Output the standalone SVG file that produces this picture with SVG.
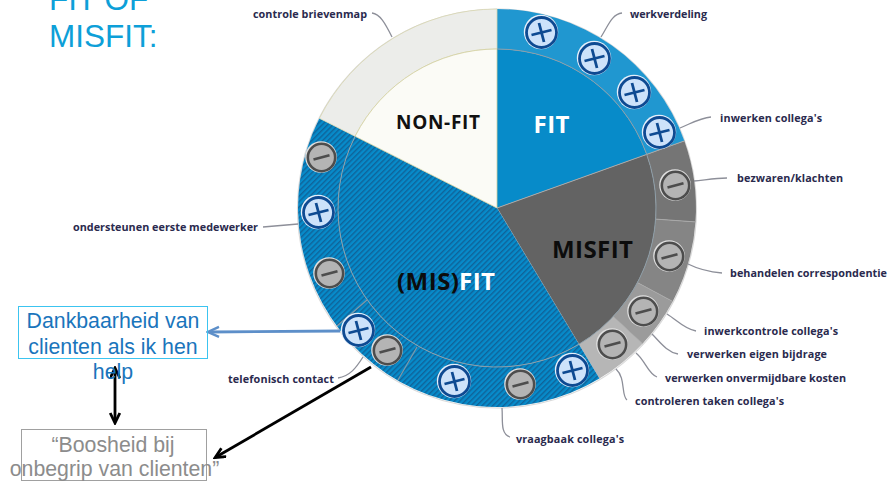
<svg xmlns="http://www.w3.org/2000/svg" width="892" height="486" viewBox="0 0 892 486">
<style>
.lb{font-family:"Open Sans","DejaVu Sans",sans-serif;font-weight:700;font-size:10.8px;fill:#2a2a4e}
.big{font-family:"Open Sans","Liberation Sans",sans-serif;font-weight:700;font-size:24px}
.ar{font-family:"Liberation Sans",Arial,sans-serif;font-size:21.3px;text-anchor:middle}
.ld{fill:none;stroke:#8d8f99;stroke-width:1.3}
.sep{fill:none;stroke:#a9a9a9;stroke-width:1}
.hd{fill:url(#hatch)}
</style>
<defs>
<pattern id="hatch" width="3.8" height="3.8" patternUnits="userSpaceOnUse" patternTransform="rotate(-45)">
<rect width="3.8" height="3.8" fill="#078bca"/><rect width="3.8" height="1.4" fill="#0f6399"/>
</pattern>
<g id="plus"><circle r="17.2" fill="#e4effb"/><circle cx="0.5" cy="0.5" r="15" fill="#cde2fa" stroke="#0e4a92" stroke-width="2.8"/><path d="M-9.5 3 L10.5 -2 M-2 -9 L3 10" fill="none" stroke="#0e4a92" stroke-width="2.8"/></g>
<g id="minus"><circle r="15.8" fill="#e0e0e0"/><circle cx="0.5" cy="0.5" r="13.7" fill="#b4b4b4" stroke="#4d4d4d" stroke-width="2.6"/><path d="M-7.5 2.6 L8.500 -1.800" fill="none" stroke="#4d4d4d" stroke-width="2.6"/></g>
<marker id="ab" markerWidth="13" markerHeight="13" refX="10" refY="5.500" orient="auto-start-reverse" markerUnits="userSpaceOnUse"><path d="M1 0.700 L11 5.500 L1 10.300" fill="none" stroke="#000" stroke-width="2.800"/></marker>
<marker id="ab2" markerWidth="14" markerHeight="14" refX="11" refY="6" orient="auto" markerUnits="userSpaceOnUse"><path d="M1 1 L12 6 L1 11" fill="none" stroke="#5d8fc9" stroke-width="2.400"/></marker>
</defs>

<text x="49" y="10" fill="#0d9fd8" font-family="Liberation Sans, Arial, sans-serif" font-size="31.5">FIT OF</text>
<text x="49" y="47" fill="#0d9fd8" font-family="Liberation Sans, Arial, sans-serif" font-size="31.5">MISFIT:</text>

<g id="ring-shadow"><circle cx="497" cy="208.500" r="199.500" fill="none" stroke="#dadada" stroke-width="1.200"/></g>

<g id="node-fit">
<path d="M497 9A199 199 0 0 1 684.400 140.900L646.700 154.400A159 159 0 0 0 497 49Z" fill="#2097d0"/>
<path d="M497 208L497 49A159 159 0 0 1 646.700 154.400Z" fill="#078bc9"/>
<text class="big" x="551.500" y="133" text-anchor="middle" fill="#fff" textLength="36">FIT</text>
</g>
<g id="node-misfit">
<path d="M684.400 140.900A199 199 0 0 1 695.500 221.900L655.600 219.100A159 159 0 0 0 646.700 154.400Z" fill="#757575"/>
<path d="M695.500 221.900A199 199 0 0 1 672.700 301.400L637.400 282.600A159 159 0 0 0 655.600 219.100Z" fill="#858585"/>
<path d="M672.700 301.400A199 199 0 0 1 642.500 343.700L613.300 316.400A159 159 0 0 0 637.400 282.600Z" fill="#9b9b9b"/>
<path d="M642.500 343.700A199 199 0 0 1 599.500 378.600L578.900 344.300A159 159 0 0 0 613.300 316.400Z" fill="#b6b6b6"/>
<path d="M497 208L646.700 154.400A159 159 0 0 1 578.900 344.300Z" fill="#636363"/>
<text class="big" x="592.500" y="258" text-anchor="middle" fill="#0c0c0c" textLength="81">MISFIT</text>
<path class="sep" d="M497 208L646.700 154.400L684.400 140.900M497 208L578.900 344.300M695.500 221.900L655.600 219.100M672.700 301.400L637.400 282.600M642.500 343.700L613.300 316.400"/>
</g>
<g id="node-misfit-mixed">
<path class="hd" d="M599.500 378.600A199 199 0 0 1 319.400 118.300L355.100 136.300A159 159 0 0 0 578.900 344.300Z"/>
<path class="hd" d="M497 208L578.900 344.300A159 159 0 0 1 355.100 136.300Z"/>
<text class="big" x="397" y="290" fill="#0c0c0c" textLength="62">(MIS)</text>
<text class="big" x="459" y="290" fill="#fff" textLength="36">FIT</text>
<path d="M417 347L398 380M367 300L337 326" fill="none" stroke="#7f98a8" stroke-width="1.200"/>
</g>
<g id="node-nonfit">
<path d="M319.400 118.300A199 199 0 0 1 497 9L497 49A159 159 0 0 0 355.100 136.300Z" fill="#ecedea" stroke="#d8d6ae" stroke-width="0.800"/>
<path d="M497 208L355.100 136.300A159 159 0 0 1 497 49Z" fill="#fbfbf6" stroke="#d2cf9e" stroke-width="0.800"/>
<text class="big" x="438" y="129" text-anchor="middle" fill="#111" style="font-size:19px" textLength="84">NON-FIT</text>
</g>
<g id="inner-line"><path d="M497 49A159 159 0 0 1 578.900 344.300A159 159 0 0 1 355.100 136.300" fill="none" stroke="#8e9ea8" stroke-width="1"/></g>

<g id="connectors">
<path class="ld" d="M372 13C380 14 385 23 392 37"/>
<path class="ld" d="M622 13C612 14 608 26 601 37"/>
<path class="ld" d="M711 117C700 118 692 123 680 128"/>
<path class="ld" d="M694 181C705 180 715 178 727 178"/>
<path class="ld" d="M688 264C700 270 710 272 722 273"/>
<path class="ld" d="M667 314C677 320 684 329 696 331"/>
<path class="ld" d="M652 334C660 342 667 352 678 354"/>
<path class="ld" d="M636 353C645 360 648 374 657 377"/>
<path class="ld" d="M616 369C626 378 621 396 627 400"/>
<path class="ld" d="M502 408C503 420 500 434 510 437"/>
<path class="ld" d="M363 357C356 368 350 376 338 378"/>
<path class="ld" d="M263 227L298 224"/>
<path d="M340 331L209 332" fill="none" stroke="#5d8fc9" stroke-width="2.800" marker-end="url(#ab2)"/>
<path d="M371 367L216 457" fill="none" stroke="#000" stroke-width="2.800" marker-end="url(#ab)"/>
<path d="M115 422L115 369" fill="none" stroke="#000" stroke-width="2.800" marker-start="url(#ab)" marker-end="url(#ab)"/>
</g>

<g id="screws">
<use href="#plus" x="541" y="32"/>
<use href="#plus" x="594" y="58"/>
<use href="#plus" x="634" y="92"/>
<use href="#plus" x="659" y="132"/>
<use href="#minus" x="675" y="185"/>
<use href="#minus" x="669" y="256"/>
<use href="#minus" x="643" y="311"/>
<use href="#minus" x="612" y="344"/>
<use href="#plus" x="572" y="370"/>
<use href="#minus" x="520" y="384"/>
<use href="#plus" x="454" y="381"/>
<use href="#minus" x="387" y="350"/>
<use href="#plus" x="358" y="330"/>
<use href="#minus" x="321" y="157"/>
<use href="#plus" x="318" y="212"/>
<use href="#minus" x="329" y="273"/>
</g>

<g id="labels">
<text class="lb" x="253" y="18" textLength="114">controle brievenmap</text>
<text class="lb" x="630" y="18" textLength="77">werkverdeling</text>
<text class="lb" x="720" y="122" textLength="102">inwerken collega's</text>
<text class="lb" x="737" y="182" textLength="106">bezwaren/klachten</text>
<text class="lb" x="730" y="277" textLength="157">behandelen correspondentie</text>
<text class="lb" x="704" y="335" textLength="134">inwerkcontrole collega's</text>
<text class="lb" x="687" y="358" textLength="140">verwerken eigen bijdrage</text>
<text class="lb" x="665" y="382" textLength="181">verwerken onvermijdbare kosten</text>
<text class="lb" x="635" y="405" textLength="149">controleren taken collega's</text>
<text class="lb" x="516" y="443" textLength="108">vraagbaak collega's</text>
<text class="lb" x="228" y="383" textLength="106">telefonisch contact</text>
<text class="lb" x="73" y="231" textLength="185">ondersteunen eerste medewerker</text>
</g>

<g id="node-dankbaarheid">
<rect x="18.500" y="306.500" width="189" height="52" fill="none" stroke="#3cc4f0" stroke-width="1"/>
<text class="ar" x="113" y="328" fill="#1a75bc">Dankbaarheid van</text>
<text class="ar" x="113" y="354" fill="#1a75bc">clienten als ik hen</text>
<text class="ar" x="113" y="379" fill="#1a75bc">help</text>
</g>
<g id="node-boosheid">
<rect x="21.500" y="429.500" width="185" height="51" fill="none" stroke="#a0a0a0" stroke-width="1"/>
<text class="ar" x="113" y="452" fill="#8c8c8c">“Boosheid bij</text>
<text class="ar" x="114.500" y="476" fill="#8c8c8c">onbegrip van clienten”</text>
</g>
</svg>
